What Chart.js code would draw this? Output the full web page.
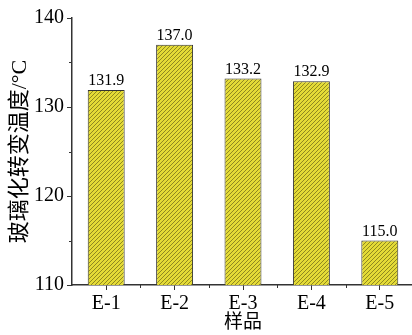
<!DOCTYPE html>
<html>
<head>
<meta charset="utf-8">
<script src="https://cdn.jsdelivr.net/npm/chart.js@4"></script>
<style>
  body { margin:0; overflow:hidden; background:#fff; }
  #wrap { width:416px; height:335px; }
</style>
</head>
<body>
<div id="wrap"><canvas id="grafico" width="416" height="335"></canvas></div>
<script>
// ======= Dados =======
const amostras = ['E-1', 'E-2', 'E-3', 'E-4', 'E-5'];
const temperaturas = [131.9, 137.0, 133.2, 132.9, 115.0];
const ticksY = [110, 120, 130, 140];
const ticksMenoresY = [115, 125, 135];

const fonte = "'Liberation Serif', 'Noto Sans CJK SC', serif";
const corEixo = '#333';
const corTexto = '#000';

// ======= Hachura das barras =======
function hachura() {
  const c = document.createElement('canvas');
  c.width = 4; c.height = 4;
  const g = c.getContext('2d');
  g.fillStyle = '#e4db36';
  g.fillRect(0, 0, 4, 4);
  g.strokeStyle = '#857e1e';
  g.lineWidth = 0.9;
  g.beginPath();
  g.moveTo(0, 4); g.lineTo(4, 0);
  g.moveTo(-1, 1); g.lineTo(1, -1);
  g.moveTo(3, 5); g.lineTo(5, 3);
  g.stroke();
  return g.createPattern(c, 'repeat');
}

// ======= Rótulos e ticks menores =======
const extras = {
  id: 'extras',
  afterDraw(chart) {
    const ctx = chart.ctx;
    const x = chart.scales.x, y = chart.scales.y;
    ctx.save();
    ctx.strokeStyle = corEixo;
    ctx.lineWidth = 1;
    // ticks menores do eixo Y
    ticksMenoresY.forEach(v => {
      const py = Math.round(y.getPixelForValue(v)) + 0.5;
      ctx.beginPath();
      ctx.moveTo(x.left - 3, py); ctx.lineTo(x.left, py);
      ctx.stroke();
    });
    // ticks menores do eixo X (entre categorias)
    for (let i = 0; i < amostras.length - 1; i++) {
      const px = Math.round((x.getPixelForValue(i) + x.getPixelForValue(i + 1)) / 2) + 0.5;
      ctx.beginPath();
      ctx.moveTo(px, y.bottom); ctx.lineTo(px, y.bottom + 3);
      ctx.stroke();
    }
    // valores acima das barras
    ctx.fillStyle = corTexto;
    ctx.font = '16px ' + fonte;
    ctx.textAlign = 'center';
    ctx.textBaseline = 'bottom';
    chart.getDatasetMeta(0).data.forEach((bar, i) => {
      ctx.fillText(temperaturas[i].toFixed(1), bar.x, bar.y - 1);
    });
    ctx.restore();
  }
};

// ======= Gráfico =======
new Chart(document.getElementById('grafico'), {
  type: 'bar',
  data: {
    labels: amostras,
    datasets: [{
      data: temperaturas,
      backgroundColor: hachura(),
      borderColor: corEixo,
      borderWidth: 1,
      borderSkipped: 'bottom',
      categoryPercentage: 1,
      barPercentage: 0.54
    }]
  },
  options: {
    responsive: false,
    animation: false,
    layout: { padding: { top: 18, right: 2, left: 0, bottom: 0 } },
    plugins: { legend: { display: false }, tooltip: { enabled: false } },
    scales: {
      x: {
        afterFit: s => { s.height = 50; },
        grid: { display: true, drawOnChartArea: false, offset: false, tickLength: 5, color: corEixo, lineWidth: 1 },
        border: { color: corEixo, width: 1.5 },
        ticks: { color: corTexto, font: { family: fonte, size: 20 }, padding: 2 },
        title: { display: true, text: '样品', color: corTexto, font: { family: fonte, size: 19 }, padding: { top: 0, bottom: 1 } }
      },
      y: {
        min: 110, max: 140,
        afterFit: s => { s.width = 72; },
        afterBuildTicks: s => { s.ticks = ticksY.map(v => ({ value: v })); },
        grid: { display: true, drawOnChartArea: false, tickLength: 5, color: corEixo, lineWidth: 1 },
        border: { color: corEixo, width: 1.5 },
        ticks: { color: corTexto, font: { family: fonte, size: 20 }, padding: 3 },
        title: { display: true, text: '玻璃化转变温度/°C', color: corTexto, font: { family: fonte, size: 22 }, padding: { top: 7, bottom: 0 } }
      }
    }
  },
  plugins: [extras]
});
</script>
</body>
</html>
